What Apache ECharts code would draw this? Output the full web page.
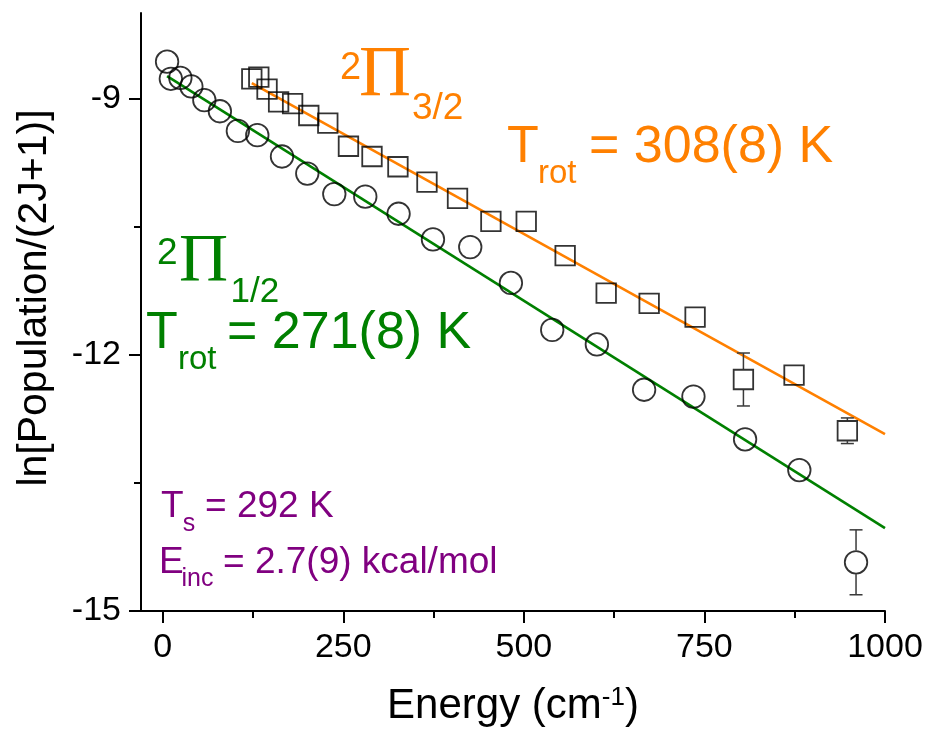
<!DOCTYPE html>
<html>
<head>
<meta charset="utf-8">
<script src="https://cdn.jsdelivr.net/npm/echarts@6/dist/echarts.min.js"></script>
<style>
  html, body { margin: 0; padding: 0; background: #fff; }
  #chart { width: 927px; height: 729px; }
</style>
</head>
<body>
<div id="chart"></div>
<script>
// Rotational level energies (cm^-1) and ln[Population/(2J+1)] for the two spin-orbit manifolds
const pi12Energy = [6.1, 11.3, 24.5, 39.7, 57.7, 79.2, 104.1, 131.0, 165.2, 200.2, 237.6, 280.5,
                    326.6, 374.2, 425.8, 482.1, 539.3, 601.1, 666.5, 734.8, 806.3, 881.4, 959.9];
const pi12LnPop = [-8.57, -8.77, -8.76, -8.86, -9.02, -9.15, -9.38, -9.43, -9.68, -9.88, -10.12, -10.15,
                   -10.35, -10.65, -10.74, -11.16, -11.71, -11.88, -12.41, -12.49, -12.99, -13.35, -14.43];
const pi12Err = [0, 0, 0, 0, 0, 0, 0, 0, 0, 0, 0, 0, 0, 0, 0, 0, 0, 0, 0, 0, 0, 0, 0.38];

const pi32Energy = [123.4, 133.1, 144.5, 160.5, 179.9, 202.3, 228.6, 257.2, 289.8, 325.7, 365.9,
                    408.2, 454.4, 503.3, 557.2, 614.0, 673.5, 737.1, 804.0, 874.1, 947.9];
const pi32LnPop = [-8.77, -8.75, -8.89, -9.04, -9.06, -9.20, -9.29, -9.56, -9.68, -9.80, -9.98,
                   -10.17, -10.44, -10.44, -10.84, -11.28, -11.40, -11.56, -12.29, -12.24, -12.89];
const pi32Err = [0, 0, 0, 0, 0, 0, 0, 0, 0, 0, 0, 0, 0, 0, 0, 0, 0, 0, 0.31, 0, 0.15];

// Boltzmann fit lines (end points)
const pi12FitEnergy = [6.1, 1000];
const pi12FitLn = [-8.74, -14.03];
const pi32FitEnergy = [123.4, 1000];
const pi32FitLn = [-8.82, -12.93];

// Axis ticks
const xMajorTicks = [0, 250, 500, 750, 1000];
const xMinorTicks = [125, 375, 625, 875];
const yMajorTicks = [-15, -12, -9];
const yMinorTicks = [-13.5, -10.5];

const SANS = '"Liberation Sans", Arial, sans-serif';
const SERIF = '"Liberation Serif", "Times New Roman", serif';
const ORANGE = '#ff8000';
const GREEN = '#008000';
const PURPLE = '#800080';

const zip = (a, b) => a.map((v, i) => [v, b[i]]);
const withErr = (xs, ys, es) => xs.map((v, i) => [v, ys[i], es[i]]).filter(d => d[2] > 0);

// Vertical error bars that stop at the symbol edge
function errorBars(half) {
  return function (params, api) {
    const x = api.value(0), y = api.value(1), e = api.value(2);
    const c = api.coord([x, y]);
    const hi = api.coord([x, y + e]);
    const lo = api.coord([x, y - e]);
    const cap = 6.5;
    const st = { stroke: '#3a3a3a', lineWidth: 1.5 };
    return {
      type: 'group',
      children: [
        { type: 'line', shape: { x1: c[0], y1: hi[1], x2: c[0], y2: c[1] - half }, style: st },
        { type: 'line', shape: { x1: c[0], y1: c[1] + half, x2: c[0], y2: lo[1] }, style: st },
        { type: 'line', shape: { x1: c[0] - cap, y1: hi[1], x2: c[0] + cap, y2: hi[1] }, style: st },
        { type: 'line', shape: { x1: c[0] - cap, y1: lo[1], x2: c[0] + cap, y2: lo[1] }, style: st }
      ]
    };
  };
}

// Text pieces of the annotations (y is the vertical centre of the glyph box)
function txt(text, x, y, size, color, family) {
  return {
    type: 'text', x: x, y: y, z: 10,
    style: {
      text: text, fill: color,
      font: size + 'px ' + (family || SANS),
      align: 'left', verticalAlign: 'middle',
      textAlign: 'left', textVerticalAlign: 'middle'
    }
  };
}

const chart = echarts.init(document.getElementById('chart'), null, { renderer: 'canvas' });

const axisLineStyle = { color: '#000', width: 2 };
const plain = v => String(v);

chart.setOption({
  animation: false,
  backgroundColor: '#fff',
  grid: { left: 141, right: 42, top: 13, bottom: 118, containLabel: false, outerBoundsMode: 'none' },
  xAxis: [
    {
      type: 'value', min: -30, max: 1000,
      name: 'Energy (cm{sup|-1})',
      nameLocation: 'middle', nameGap: 74,
      nameTextStyle: {
        fontFamily: SANS, fontSize: 42, color: '#000',
        rich: { sup: { fontFamily: SANS, fontSize: 26, color: '#000', verticalAlign: 'top' } }
      },
      axisLine: { show: true, onZero: false, lineStyle: axisLineStyle },
      axisTick: { show: true, customValues: xMajorTicks, length: 12, lineStyle: axisLineStyle },
      axisLabel: { customValues: xMajorTicks, formatter: plain, fontFamily: SANS, fontSize: 34, color: '#000', margin: 20 },
      splitLine: { show: false }
    },
    {
      type: 'value', min: -30, max: 1000, position: 'bottom',
      axisLine: { show: false, onZero: false },
      axisTick: { show: true, customValues: xMinorTicks, length: 7, lineStyle: axisLineStyle },
      axisLabel: { show: false },
      splitLine: { show: false }
    }
  ],
  yAxis: [
    {
      type: 'value', min: -15, max: -8,
      name: 'ln[Population/(2J+1)]',
      nameLocation: 'middle', nameGap: 86, nameRotate: 90,
      nameTextStyle: { fontFamily: SANS, fontSize: 41, color: '#000', padding: [0, 0, 0, 28] },
      axisLine: { show: true, onZero: false, lineStyle: axisLineStyle },
      axisTick: { show: true, customValues: yMajorTicks, length: 12, lineStyle: axisLineStyle },
      axisLabel: { customValues: yMajorTicks, formatter: plain, fontFamily: SANS, fontSize: 34, color: '#000', margin: 20 },
      splitLine: { show: false }
    },
    {
      type: 'value', min: -15, max: -8, position: 'left',
      axisLine: { show: false, onZero: false },
      axisTick: { show: true, customValues: yMinorTicks, length: 7, lineStyle: axisLineStyle },
      axisLabel: { show: false },
      splitLine: { show: false }
    }
  ],
  series: [
    {
      name: 'fit 2Pi1/2', type: 'line', data: zip(pi12FitEnergy, pi12FitLn),
      symbol: 'none', lineStyle: { color: GREEN, width: 2.6 }, z: 3, silent: true
    },
    {
      name: 'fit 2Pi3/2', type: 'line', data: zip(pi32FitEnergy, pi32FitLn),
      symbol: 'none', lineStyle: { color: ORANGE, width: 2.6 }, z: 3, silent: true
    },
    {
      name: '2Pi1/2', type: 'scatter', data: zip(pi12Energy, pi12LnPop),
      symbol: 'circle', symbolSize: 22.5,
      itemStyle: { color: 'rgba(0,0,0,0)', borderColor: '#000', borderWidth: 1.8 }, z: 4
    },
    {
      name: '2Pi3/2', type: 'scatter', data: zip(pi32Energy, pi32LnPop),
      symbol: 'rect', symbolSize: 19.5,
      itemStyle: { color: 'rgba(0,0,0,0)', borderColor: '#000', borderWidth: 1.8 }, z: 4
    },
    {
      type: 'custom', data: withErr(pi12Energy, pi12LnPop, pi12Err),
      renderItem: errorBars(12), z: 4, silent: true
    },
    {
      type: 'custom', data: withErr(pi32Energy, pi32LnPop, pi32Err),
      renderItem: errorBars(10.5), z: 4, silent: true
    }
  ],
  graphic: [
    // 2Π3/2 manifold
    txt('2', 340, 69, 38, ORANGE),
    txt('\u03A0', 359, 76.5, 72, ORANGE, SERIF),
    txt('3/2', 412, 108.3, 37, ORANGE),
    txt('T', 507, 147.5, 52, ORANGE),
    txt('rot', 538, 173.6, 33, ORANGE),
    txt('= 308(8) K', 589, 147.5, 52, ORANGE),
    // 2Π1/2 manifold
    txt('2', 157, 253.3, 37, GREEN),
    txt('\u03A0', 179, 262.5, 68, GREEN, SERIF),
    txt('1/2', 230.5, 292.5, 35, GREEN),
    txt('T', 146, 333.3, 52, GREEN),
    txt('rot', 178, 360.3, 33, GREEN),
    txt('= 271(8) K', 227, 333.3, 52, GREEN),
    // surface conditions
    txt('T', 161, 506.7, 37, PURPLE),
    txt('s', 182.7, 524.6, 25, PURPLE),
    txt('= 292 K', 205, 506.7, 37, PURPLE),
    txt('E', 159, 563, 37, PURPLE),
    txt('inc', 181.5, 579.6, 25, PURPLE),
    txt('= 2.7(9) kcal/mol', 223, 563, 37, PURPLE)
  ]
});
</script>
</body>
</html>
